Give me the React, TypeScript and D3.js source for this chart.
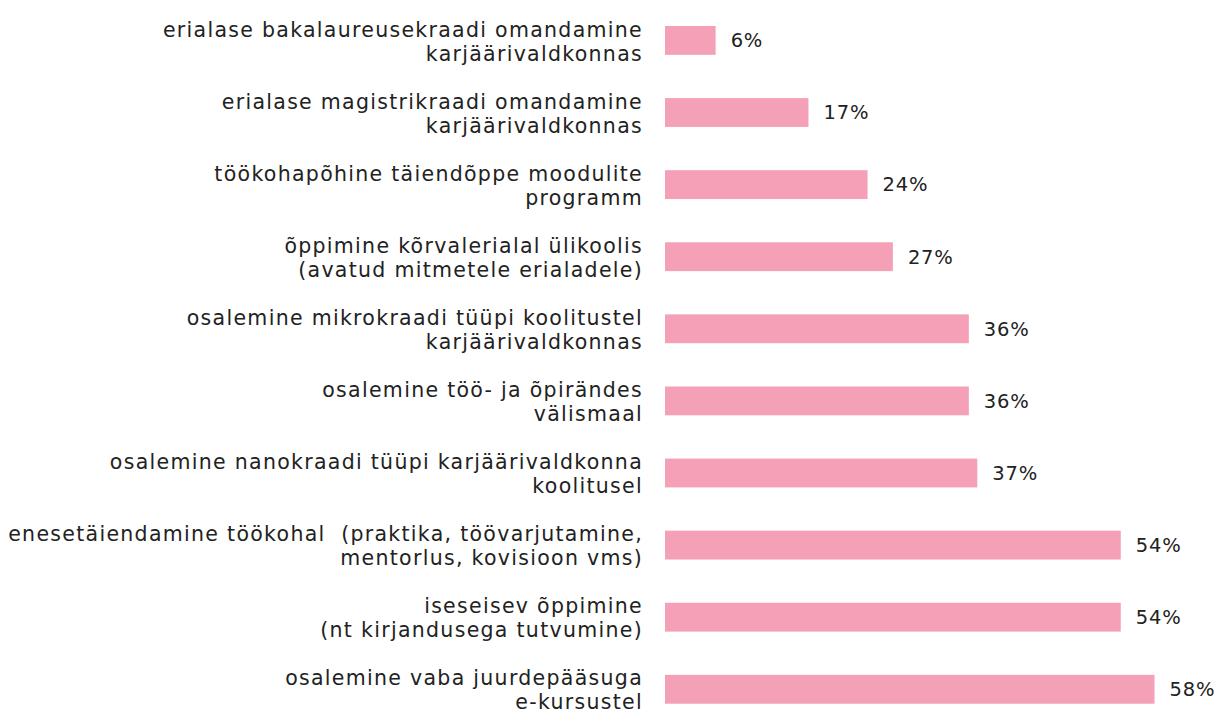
import React from "react";
import * as d3 from "d3";

const categories = [
  ["erialase bakalaureusekraadi omandamine", "karjäärivaldkonnas"],
  ["erialase magistrikraadi omandamine", "karjäärivaldkonnas"],
  ["töökohapõhine täiendõppe moodulite", "programm"],
  ["õppimine kõrvalerialal ülikoolis", "(avatud mitmetele erialadele)"],
  ["osalemine mikrokraadi tüüpi koolitustel", "karjäärivaldkonnas"],
  ["osalemine töö- ja õpirändes", "välismaal"],
  ["osalemine nanokraadi tüüpi karjäärivaldkonna", "koolitusel"],
  ["enesetäiendamine töökohal  (praktika, töövarjutamine,", "mentorlus, kovisioon vms)"],
  ["iseseisev õppimine", "(nt kirjandusega tutvumine)"],
  ["osalemine vaba juurdepääsuga", "e-kursustel"],
];
const values = [6, 17, 24, 27, 36, 36, 37, 54, 54, 58];

const W = 1216;
const H = 717;
const FONT = "'DejaVu Sans', sans-serif";

export default function App() {
  const keys = categories.map((c) => c.join(" "));
  const y = d3.scaleBand<string>().domain(keys).range([26, 703.7]).paddingInner(0.6).paddingOuter(0);
  const x = d3.scaleLinear().domain([0, 100]).range([665, 1509]);
  const lx = 643;

  return (
    <svg width={W} height={H} style={{ position: "absolute", left: 0, top: 0, background: "#fff" }}>
      {keys.map((k, i) => {
        const y0 = y(k)!;
        const cy = y0 + y.bandwidth() / 2;
        return (
          <g key={k}>
            <rect x={x(0)} y={y0} width={x(values[i]) - x(0)} height={y.bandwidth()} fill="#f4a0b7" />
            <text
              x={lx}
              y={cy}
              textAnchor="end"
              fontFamily={FONT}
              fontSize={20.5}
              letterSpacing={1.3}
              fill="#222"
              style={{ whiteSpace: "pre" }}
            >
              <tspan x={lx} y={cy - 11} dy="0.35em">{categories[i][0]}</tspan>
              <tspan x={lx} y={cy + 13} dy="0.35em">{categories[i][1]}</tspan>
            </text>
            <text x={x(values[i]) + 15} y={cy} dy="0.35em" fontFamily={FONT} fontSize={19.5} letterSpacing={0.8} fill="#222">
              {values[i]}%
            </text>
          </g>
        );
      })}
    </svg>
  );
}
